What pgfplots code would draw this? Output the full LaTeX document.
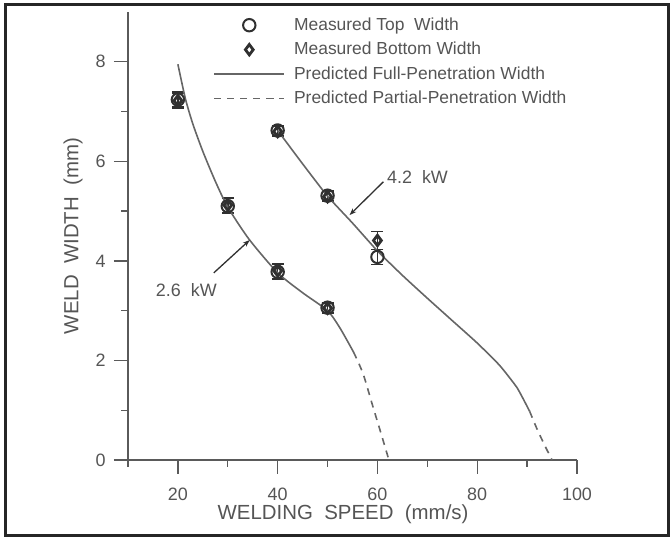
\documentclass[border=0pt]{standalone}
\usepackage{pgfplots}
\pgfplotsset{compat=1.18}
\usepackage{fontspec}
\setmainfont{Liberation Sans}
\usetikzlibrary{arrows.meta}
\definecolor{axgray}{HTML}{5A5A5A}
\definecolor{txtgray}{HTML}{555555}
\definecolor{lngray}{HTML}{666666}
\definecolor{mkgray}{HTML}{303030}
\begin{document}
\begin{tikzpicture}
\useasboundingbox (0,0) rectangle (672bp,539bp);
\draw[line width=3bp, color=black!85] (5bp,3bp) rectangle (668bp,534bp);
\begin{axis}[
  at={(128bp,79bp)}, anchor=south west,
  scale only axis, width=449bp, height=448bp,
  xmin=10, xmax=100, ymin=0, ymax=9,
  axis lines=left, axis line style={-, line width=1.6bp, color=axgray},
  tick align=outside,
  major tick length=14bp, minor tick length=7bp,
  every tick/.style={line width=1.4bp, color=axgray},
  xtick={20,40,60,80,100}, minor xtick={10,30,50,70,90},
  ytick={0,2,4,6,8}, minor ytick={1,3,5,7},
  /pgf/number format/assume math mode=true,
  ticklabel style={font=\fontsize{18}{20}\selectfont, text=txtgray},
  xticklabel style={yshift=-10bp},
  yticklabel style={xshift=-5bp},
  xlabel={WELDING\ \ SPEED\ \ (mm/s)},
  ylabel={WELD\ \ WIDTH\ \ (mm)},
  label style={font=\fontsize{20.5}{22}\selectfont, text=txtgray},
  xlabel style={at={(axis description cs:0.479,-0.1205)}, anchor=center},
  ylabel style={at={(axis description cs:-0.1225,0.5)}, anchor=center},
  clip=false,
  legend style={draw=none, fill=none, at={(axis cs:26.5,9.0)}, anchor=north west,
    font=\fontsize{17.5}{20}\selectfont, text=txtgray, row sep=2.5bp,
    nodes={inner sep=3bp, text height=13bp, text depth=3bp}},
  legend cell align=left,
  legend image code/.code={\draw[mark repeat=2,mark phase=2,#1] plot coordinates {(0bp,0bp) (35bp,0bp) (70bp,0bp)};\path (76bp,0bp) (0bp,0bp);},
]
% Measured top width
\addplot[only marks, mark=o, mark size=6.2bp, mark options={line width=2bp, draw=mkgray, fill=white},
  error bars/.cd, y dir=both, y explicit, error bar style={line width=1.5bp, color=mkgray}, error mark options={mark size=6bp, line width=1.5bp, color=mkgray, rotate=90}]
  coordinates {(20,7.24) +- (0,0.15) (30,5.10) +- (0,0.15) (40,3.78) +- (0,0.15) (50,3.06) +- (0,0.1)
               (40,6.62) +- (0,0.1) (50,5.31) +- (0,0.1) (60,4.08) +- (0,0.15)};
\addlegendentry{Measured Top\ \ Width}
% Measured bottom width
\addplot[only marks, mark=diamond, mark size=5.2bp, mark options={line width=2.8bp, draw=mkgray, fill=white},
  error bars/.cd, y dir=both, y explicit, error bar style={line width=1.5bp, color=mkgray}, error mark options={mark size=6bp, line width=1.5bp, color=mkgray, rotate=90}]
  coordinates {(20,7.22) +- (0,0.15) (30,5.12) +- (0,0.15) (40,3.80) +- (0,0.15) (50,3.05) +- (0,0.1)
               (40,6.60) +- (0,0.1) (50,5.29) +- (0,0.1) (60,4.41) +- (0,0.18)};
\addlegendentry{Measured Bottom Width}
% 2.6 kW full penetration
\addplot[lngray, line width=1.6bp, smooth, tension=0.4] coordinates {
  (20,7.95) (21.5,7.26) (23,6.75) (25,6.2) (27.5,5.6) (30,5.08) (34.3,4.43) (40,3.76) (45,3.36) (50,3.0) (52.5,2.65) (55.2,2.17)};
\addlegendentry{Predicted Full-Penetration Width}
% 2.6 kW partial
\addplot[lngray, line width=1.6bp, dash pattern=on 7bp off 6bp, smooth, tension=0.4] coordinates {
  (55.2,2.17) (57.1,1.74) (59.1,1.07) (60.7,0.54) (62.3,0)};
\addlegendentry{Predicted Partial-Penetration Width}
% 4.2 kW full
\addplot[lngray, line width=1.6bp, smooth, tension=0.3, forget plot] coordinates {
  (40,6.62) (45,5.95) (50,5.3) (55,4.76) (60,4.2) (65,3.71) (70,3.25) (75,2.8) (80,2.35) (84.5,1.9) (88,1.45) (90.5,0.98)};
% 4.2 kW partial
\addplot[lngray, line width=1.6bp, dash pattern=on 7bp off 6bp, smooth, tension=0.4, forget plot] coordinates {
  (90.5,0.98) (92,0.62) (93.5,0.3) (95,0)};
% annotations
\draw[-{Stealth[length=7bp,width=5bp]}, line width=1.3bp, color=mkgray] (axis cs:61.2,5.59) -- (axis cs:54.4,4.92);
\node[anchor=west, font=\fontsize{18}{20}\selectfont, text=txtgray, inner sep=0pt] at (axis cs:61.9,5.68) {4.2\ \ kW};
\draw[-{Stealth[length=7bp,width=5bp]}, line width=1.3bp, color=mkgray] (axis cs:27.2,3.76) -- (axis cs:34.4,4.42);
\node[anchor=center, font=\fontsize{18}{20}\selectfont, text=txtgray, inner sep=0pt] at (axis cs:21.7,3.42) {2.6\ \ kW};
\end{axis}
\end{tikzpicture}
\end{document}
